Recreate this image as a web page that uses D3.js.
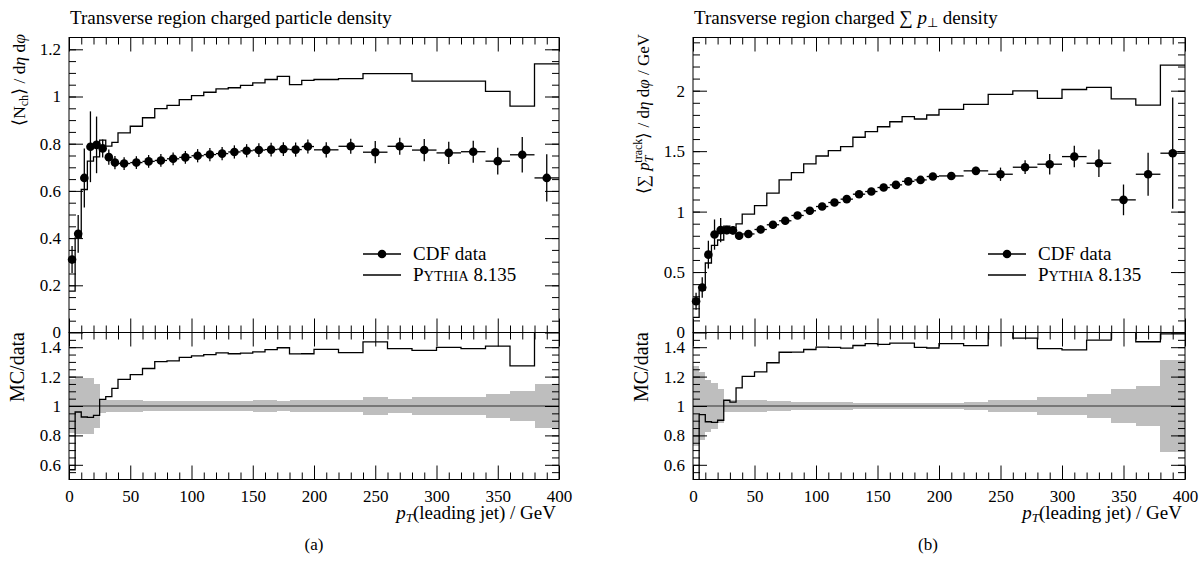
<!DOCTYPE html>
<html>
<head>
<meta charset="utf-8">
<script src="https://cdn.jsdelivr.net/npm/d3@7"></script>
<style>
  body { margin: 0; background: #fff; }
  svg text { font-family: "Liberation Serif", "Times New Roman", serif; fill: #000; font-size: 17px; }
</style>
</head>
<body>
<svg id="chart" width="1204" height="574"></svg>
<script>
// bin edges in pT(leading jet) / GeV, shared by both plots
var binEdges = [0, 5, 10, 15, 20, 25, 30, 35, 40, 50, 60, 70, 80, 90, 100, 110, 120, 130, 140, 150,
  160, 170, 180, 190, 200, 220, 240, 260, 280, 300, 320, 340, 360, 380, 400];

// (a) charged particle density
var nchData = [0.309, 0.418, 0.655, 0.787, 0.795, 0.780, 0.743, 0.720,
  0.716, 0.720, 0.725, 0.729, 0.736, 0.742, 0.749, 0.754, 0.758, 0.765, 0.770, 0.773, 0.775, 0.777, 0.775, 0.788,
  0.774, 0.789, 0.764, 0.789, 0.773, 0.761, 0.766, 0.726, 0.753, 0.655];
var nchErr = [0.057, 0.080, 0.125, 0.150, 0.120, 0.038, 0.032, 0.028,
  0.027, 0.027, 0.027, 0.027, 0.027, 0.027, 0.028, 0.028, 0.028, 0.028, 0.028, 0.029, 0.029, 0.029, 0.030, 0.030,
  0.032, 0.032, 0.047, 0.036, 0.047, 0.047, 0.047, 0.057, 0.075, 0.100];
var nchMC = [0.175, 0.401, 0.606, 0.726, 0.744, 0.815, 0.790, 0.806,
  0.846, 0.874, 0.910, 0.949, 0.962, 0.987, 1.004, 1.018, 1.032, 1.037, 1.047, 1.058, 1.072, 1.085, 1.050, 1.068,
  1.072, 1.076, 1.097, 1.097, 1.065, 1.065, 1.065, 1.022, 0.959, 1.138];

// (b) charged sum pT density
var sptData = [0.258, 0.372, 0.644, 0.810, 0.847, 0.847, 0.845, 0.800,
  0.815, 0.852, 0.891, 0.924, 0.968, 1.007, 1.042, 1.075, 1.103, 1.144, 1.166, 1.199, 1.221, 1.250, 1.262, 1.290,
  1.295, 1.337, 1.309, 1.367, 1.392, 1.455, 1.400, 1.097, 1.309, 1.483];
var sptErr = [0.070, 0.085, 0.115, 0.125, 0.100, 0.034, 0.034, 0.032,
  0.033, 0.032, 0.031, 0.030, 0.029, 0.030, 0.029, 0.029, 0.028, 0.027, 0.026, 0.025, 0.024, 0.025, 0.025, 0.026,
  0.026, 0.033, 0.055, 0.057, 0.085, 0.089, 0.113, 0.127, 0.177, 0.460];
var sptMC = [0.125, 0.350, 0.575, 0.720, 0.765, 0.880, 0.867, 0.899,
  0.979, 1.050, 1.153, 1.262, 1.323, 1.394, 1.460, 1.504, 1.537, 1.615, 1.661, 1.702, 1.743, 1.785, 1.766, 1.799,
  1.845, 1.887, 1.969, 1.999, 1.936, 2.010, 2.027, 1.933, 1.881, 2.211];

// tick labels
var xTicks = [0, 50, 100, 150, 200, 250, 300, 350, 400];
var nchTicks = [0, 0.2, 0.4, 0.6, 0.8, 1, 1.2];
var sptTicks = [0, 0.5, 1, 1.5, 2];
var ratioTicks = [0.6, 0.8, 1, 1.2, 1.4];

var svg = d3.select("#chart");
var yTop = 37.5, yMid = 332.5, yBot = 479.5;

function addAxis(g, axis, tx, ty, labels) {
  var a = g.append("g")
    .attr("transform", "translate(" + tx + "," + ty + ")")
    .call(axis);
  a.select(".domain").remove();
  a.selectAll("line").attr("stroke", "#000").attr("stroke-width", 1);
  a.selectAll("text").attr("font-family", null).attr("font-size", null).attr("fill", "#000");
  if (!labels) a.selectAll("text").remove();
}

// ticks on all four sides, pointing in
function frameTicks(g, x, y, top, bottom, yMajor, yMinor, xLabels, yFormat) {
  var xMinor = d3.range(0, 401, 10).filter(function (d) { return d % 50 != 0; });
  var left = x.range()[0], right = x.range()[1];
  addAxis(g, d3.axisBottom(x).tickValues(xTicks).tickSize(-14).tickPadding(10).tickFormat(d3.format("d")), 0, bottom, xLabels);
  addAxis(g, d3.axisBottom(x).tickValues(xMinor).tickSize(-7), 0, bottom, false);
  addAxis(g, d3.axisTop(x).tickValues(xTicks).tickSize(-14), 0, top, false);
  addAxis(g, d3.axisTop(x).tickValues(xMinor).tickSize(-7), 0, top, false);
  addAxis(g, d3.axisLeft(y).tickValues(yMajor).tickSize(-14).tickPadding(8).tickFormat(yFormat), left, 0, true);
  addAxis(g, d3.axisLeft(y).tickValues(yMinor).tickSize(-7), left, 0, false);
  addAxis(g, d3.axisRight(y).tickValues(yMajor).tickSize(-14), right, 0, false);
  addAxis(g, d3.axisRight(y).tickValues(yMinor).tickSize(-7), right, 0, false);
  g.append("rect")
    .attr("x", left).attr("y", top)
    .attr("width", right - left).attr("height", bottom - top)
    .attr("fill", "none").attr("stroke", "#000").attr("stroke-width", 1);
}

function drawPanel(cfg) {
  var g = svg.append("g");
  var x = d3.scaleLinear().domain([0, 400]).range([cfg.x0, cfg.x1]);
  var y = d3.scaleLinear().domain([0, cfg.yMax]).range([yMid, yTop]);
  var r = d3.scaleLinear().domain([0.5, 1.5]).range([yBot, yMid]);

  var bins = cfg.data.map(function (v, i) {
    return { lo: binEdges[i], hi: binEdges[i + 1], v: v, e: cfg.err[i], mc: cfg.mc[i] };
  });
  var last = bins.length - 1;

  svg.append("clipPath").attr("id", "clip-" + cfg.id)
    .append("rect")
    .attr("x", cfg.x0).attr("y", yMid)
    .attr("width", cfg.x1 - cfg.x0).attr("height", yBot - yMid);

  // ratio panel
  var rg = g.append("g").attr("clip-path", "url(#clip-" + cfg.id + ")");
  rg.selectAll("rect.band").data(bins).enter().append("rect")
    .attr("class", "band")
    .attr("x", function (d) { return x(d.lo); })
    .attr("width", function (d) { return x(d.hi) - x(d.lo); })
    .attr("y", function (d) { return r(1 + d.e / d.v); })
    .attr("height", function (d) { return r(1 - d.e / d.v) - r(1 + d.e / d.v); })
    .attr("fill", "#bebebe")
    .attr("shape-rendering", "crispEdges");
  rg.append("line")
    .attr("x1", cfg.x0).attr("x2", cfg.x1)
    .attr("y1", r(1)).attr("y2", r(1))
    .attr("stroke", "#333").attr("stroke-width", 1);
  var ratioLine = d3.line()
    .x(function (d) { return x(d.x); })
    .y(function (d) { return r(d.y); })
    .curve(d3.curveStepAfter);
  rg.append("path")
    .datum(binEdges.map(function (e, i) {
      var b = bins[Math.min(i, last)];
      return { x: e, y: b.mc / b.v };
    }))
    .attr("d", ratioLine)
    .attr("fill", "none").attr("stroke", "#000").attr("stroke-width", 1.3);

  // main panel: MC histogram
  var histLine = d3.line()
    .x(function (d) { return x(d.x); })
    .y(function (d) { return y(d.y); })
    .curve(d3.curveStepAfter);
  g.append("path")
    .datum(binEdges.map(function (e, i) {
      return { x: e, y: bins[Math.min(i, last)].mc };
    }))
    .attr("d", histLine)
    .attr("fill", "none").attr("stroke", "#000").attr("stroke-width", 1.3);

  // data points with error bars
  var pts = g.append("g").attr("stroke", "#000").attr("stroke-width", 1.3);
  pts.selectAll("line.xerr").data(bins).enter().append("line")
    .attr("x1", function (d) { return x(d.lo); })
    .attr("x2", function (d) { return x(d.hi); })
    .attr("y1", function (d) { return y(d.v); })
    .attr("y2", function (d) { return y(d.v); });
  pts.selectAll("line.yerr").data(bins).enter().append("line")
    .attr("x1", function (d) { return x((d.lo + d.hi) / 2); })
    .attr("x2", function (d) { return x((d.lo + d.hi) / 2); })
    .attr("y1", function (d) { return y(d.v - d.e); })
    .attr("y2", function (d) { return y(d.v + d.e); });
  pts.selectAll("circle").data(bins).enter().append("circle")
    .attr("cx", function (d) { return x((d.lo + d.hi) / 2); })
    .attr("cy", function (d) { return y(d.v); })
    .attr("r", 4.3)
    .attr("fill", "#000").attr("stroke", "none");

  frameTicks(g, x, y, yTop, yMid, cfg.ticks, cfg.minor, false, function (d) { return String(d); });
  frameTicks(g, x, r, yMid, yBot, ratioTicks, d3.range(1, 20).map(function (i) { return 0.5 + i * 0.05; }), true, function (d) { return String(d); });

  // title
  cfg.title(g.append("text").attr("x", cfg.x0 + 1).attr("y", 23.5).style("font-size", "19px"));

  // y labels
  cfg.ylabel(g.append("text")
    .attr("text-anchor", "end")
    .style("font-size", cfg.ylabelSize)
    .attr("transform", "translate(" + (cfg.x0 - 44) + "," + 34 + ") rotate(-90)"));
  g.append("text")
    .attr("text-anchor", "end")
    .style("font-size", "20px")
    .attr("transform", "translate(" + (cfg.x0 - 45) + "," + 332 + ") rotate(-90)")
    .text("MC/data");

  // x label
  var xl = g.append("text")
    .attr("text-anchor", "end")
    .style("font-size", "19px")
    .attr("x", cfg.x1 - 3).attr("y", 519);
  xl.append("tspan").attr("font-style", "italic").text("p");
  xl.append("tspan").attr("font-style", "italic").style("font-size", "13px").attr("dy", 3).text("T");
  xl.append("tspan").attr("dy", -3).text("(leading jet)  / GeV");

  // legend
  var lg = g.append("g").attr("transform", "translate(" + cfg.legX + ",0)");
  lg.append("line").attr("x1", 0).attr("x2", 38).attr("y1", 254).attr("y2", 254)
    .attr("stroke", "#000").attr("stroke-width", 1.3);
  lg.append("circle").attr("cx", 19).attr("cy", 254).attr("r", 4.3).attr("fill", "#000");
  lg.append("text").attr("x", 50).attr("y", 260).style("font-size", "19px").text("CDF data");
  lg.append("line").attr("x1", 0).attr("x2", 38).attr("y1", 275).attr("y2", 275)
    .attr("stroke", "#000").attr("stroke-width", 1.3);
  var pt = lg.append("text").attr("x", 50).attr("y", 281).style("font-size", "19px");
  pt.append("tspan").text("P");
  pt.append("tspan").style("font-size", "14.5px").text("YTHIA");
  pt.append("tspan").text(" 8.135");

  // sub-figure caption
  g.append("text").attr("x", cfg.capX).attr("y", 550)
    .attr("text-anchor", "middle").text(cfg.caption);
}

drawPanel({
  id: "a", x0: 69, x1: 559, yMax: 1.25,
  data: nchData, err: nchErr, mc: nchMC,
  ticks: nchTicks,
  minor: d3.range(1, 25).map(function (i) { return i * 0.05; }),
  legX: 363, capX: 314, caption: "(a)", ylabelSize: "17.5px",
  title: function (t) { t.text("Transverse region charged particle density"); },
  ylabel: function (t) {
    t.append("tspan").text("\u27E8N");
    t.append("tspan").style("font-size", "12px").attr("dy", 3).text("ch");
    t.append("tspan").attr("dy", -3).text("\u27E9 / d");
    t.append("tspan").attr("font-style", "italic").text("\u03B7");
    t.append("tspan").text(" d");
    t.append("tspan").attr("font-style", "italic").text("\u03C6");
  }
});

drawPanel({
  id: "b", x0: 693, x1: 1185, yMax: 2.44,
  data: sptData, err: sptErr, mc: sptMC,
  ticks: sptTicks,
  minor: d3.range(1, 25).map(function (i) { return i * 0.1; }),
  legX: 988, capX: 928, caption: "(b)", ylabelSize: "17px",
  title: function (t) {
    t.append("tspan").text("Transverse region charged \u2211 ");
    t.append("tspan").attr("font-style", "italic").text("p");
    t.append("tspan").style("font-size", "13px").attr("dy", 3).text("\u22A5");
    t.append("tspan").attr("dy", -3).text(" density");
  },
  ylabel: function (t) {
    t.append("tspan").text("\u27E8\u2211 ");
    t.append("tspan").attr("font-style", "italic").text("p");
    t.append("tspan").attr("font-style", "italic").style("font-size", "12px").attr("dy", 4).text("T");
    t.append("tspan").style("font-size", "12px").attr("dx", -7).attr("dy", -11).text("track");
    t.append("tspan").attr("dy", 7).text("\u27E9 / d");
    t.append("tspan").attr("font-style", "italic").text("\u03B7");
    t.append("tspan").text(" d");
    t.append("tspan").attr("font-style", "italic").text("\u03C6");
    t.append("tspan").text(" / GeV");
  }
});
</script>
</body>
</html>
